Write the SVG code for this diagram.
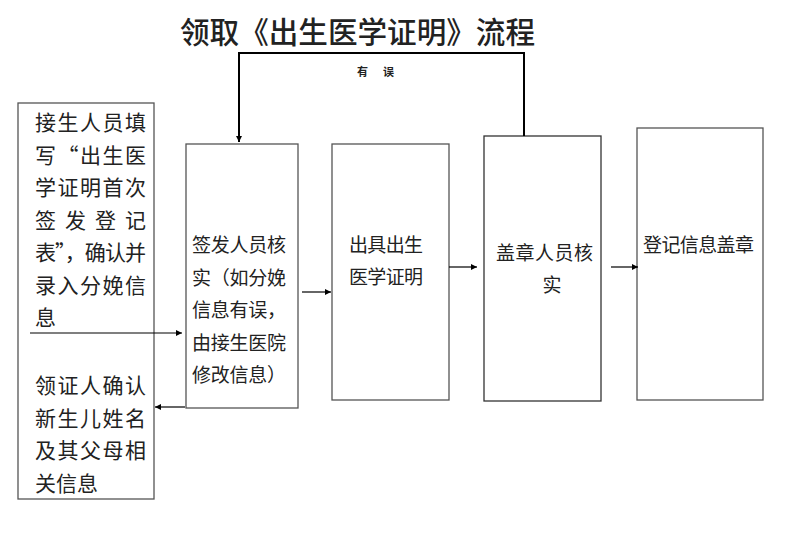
<svg xmlns="http://www.w3.org/2000/svg" width="800" height="541" viewBox="0 0 800 541">
<defs>
<marker id="ah" viewBox="0 0 10 10" refX="10" refY="5" markerWidth="7" markerHeight="6" markerUnits="userSpaceOnUse" orient="auto">
<path d="M0,0 L10,5 L0,10 z" fill="#000"/>
</marker>
<style>
.box{fill:#fff;stroke:#555;stroke-width:1.3}
.t{font-family:"Noto Sans CJK SC","Noto Sans",sans-serif;fill:#222}
.b1{font-size:21px}
.b2{font-size:19px}
.c{fill:none;stroke:#000;stroke-width:1.2}
</style>
</defs>
<rect width="800" height="541" fill="#fff"/>
<text class="t" x="180" y="43" font-size="30" font-weight="500" fill="#111" textLength="355" lengthAdjust="spacingAndGlyphs">领取《出生医学证明》流程</text>
<g id="n1">
<rect class="box" x="18" y="103" width="136" height="396"/>
<g class="t b1">
<text x="35" y="130" textLength="111" lengthAdjust="spacing">接生人员填</text>
<text x="35" y="162.5" textLength="111" lengthAdjust="spacing">写“出生医</text>
<text x="35" y="195" textLength="111" lengthAdjust="spacing">学证明首次</text>
<text x="35" y="227.5" textLength="111" lengthAdjust="spacing">签发登记</text>
<text x="35" y="260" textLength="111" lengthAdjust="spacing">表”，确认并</text>
<text x="35" y="292.5" textLength="111" lengthAdjust="spacing">录入分娩信</text>
<text x="35" y="325">息</text>
<text x="35" y="393" textLength="111" lengthAdjust="spacing">领证人确认</text>
<text x="35" y="425.5" textLength="111" lengthAdjust="spacing">新生儿姓名</text>
<text x="35" y="458" textLength="111" lengthAdjust="spacing">及其父母相</text>
<text x="35" y="490.5">关信息</text>
</g>
</g>
<g id="n2">
<rect class="box" x="186" y="144" width="112" height="264"/>
<g class="t b2">
<text x="192" y="252" textLength="94" lengthAdjust="spacing">签发人员核</text>
<text x="192" y="284.5" textLength="94" lengthAdjust="spacing">实（如分娩</text>
<text x="192" y="317" textLength="94" lengthAdjust="spacing">信息有误，</text>
<text x="192" y="349.5" textLength="94" lengthAdjust="spacing">由接生医院</text>
<text x="192" y="382" textLength="94" lengthAdjust="spacing">修改信息）</text>
</g>
</g>
<g id="n3">
<rect class="box" x="332" y="144" width="117" height="256"/>
<g class="t b2">
<text x="349" y="252" textLength="74" lengthAdjust="spacing">出具出生</text>
<text x="349" y="284" textLength="74" lengthAdjust="spacing">医学证明</text>
</g>
</g>
<g id="n4">
<rect class="box" x="484" y="136" width="117" height="265" style="stroke:#333"/>
<g class="t b2">
<text x="496" y="260" textLength="97" lengthAdjust="spacing">盖章人员核</text>
<text x="552" y="292" text-anchor="middle">实</text>
</g>
</g>
<g id="n5">
<rect class="box" x="637" y="128" width="126" height="272"/>
<text class="t b2" x="643" y="252" textLength="111" lengthAdjust="spacing">登记信息盖章</text>
</g>
<g id="connectors">
<polyline class="c" style="stroke-width:2" points="524,136 524,53 239,53 239,142" marker-end="url(#ah)"/>
<line class="c" x1="30" y1="333" x2="182" y2="333" marker-end="url(#ah)"/>
<line class="c" x1="185" y1="407" x2="155" y2="407" marker-end="url(#ah)"/>
<line class="c" x1="302" y1="292" x2="331" y2="292" marker-end="url(#ah)"/>
<line class="c" x1="449" y1="267" x2="477" y2="267" marker-end="url(#ah)"/>
<line class="c" x1="611" y1="267" x2="638" y2="267" marker-end="url(#ah)"/>
<text class="t" x="357" y="76" font-size="11" font-weight="bold" textLength="37" lengthAdjust="spacing">有 误</text>
</g>
</svg>
